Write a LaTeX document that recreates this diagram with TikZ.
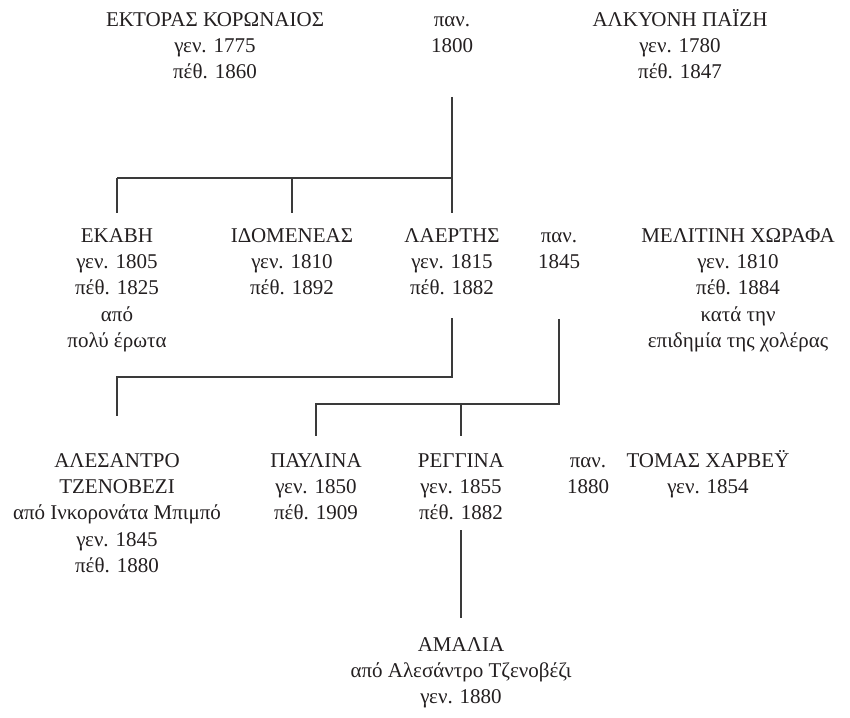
\documentclass[tikz,border=0pt]{standalone}
\usepackage{fontspec}
\setmainfont{Liberation Serif}

\begin{document}
\begin{tikzpicture}[x=1pt,y=-1pt]

% Colori
\definecolor{colText}{HTML}{231F20}
\definecolor{colLine}{HTML}{3A3A3A}

\tikzset{
  persona/.style={anchor=north, align=center, inner sep=0pt, text=colText,
    font=\fontsize{21}{26.4}\selectfont},
  legame/.style={draw=colLine, line width=1.2pt}
}

\useasboundingbox (0,0) rectangle (850,717);

% Prima generazione
\node[persona] (ektoras) at (215,7.5) {\strut ΕΚΤΟΡΑΣ ΚΟΡΩΝΑΙΟΣ\\γεν. 1775\\πέθ. 1860};
\node[persona] (m1800) at (452,7.5) {\strut παν.\\1800};
\node[persona] (alkyoni) at (680,7.5) {\strut ΑΛΚΥΟΝΗ ΠΑΪΖΗ\\γεν. 1780\\πέθ. 1847};

% Seconda generazione
\node[persona] (ekavi) at (117,223.5) {\strut ΕΚΑΒΗ\\γεν. 1805\\πέθ. 1825\\από\\πολύ έρωτα};
\node[persona] (idomeneas) at (292,223.5) {\strut ΙΔΟΜΕΝΕΑΣ\\γεν. 1810\\πέθ. 1892};
\node[persona] (laertis) at (452,223.5) {\strut ΛΑΕΡΤΗΣ\\γεν. 1815\\πέθ. 1882};
\node[persona] (m1845) at (559,223.5) {\strut παν.\\1845};
\node[persona] (melitini) at (738,223.5) {\strut ΜΕΛΙΤΙΝΗ ΧΩΡΑΦΑ\\γεν. 1810\\πέθ. 1884\\κατά την\\επιδημία της χολέρας};

% Terza generazione
\node[persona] (alesantro) at (117,448.5) {\strut ΑΛΕΣΑΝΤΡΟ\\ΤΖΕΝΟΒΕΖΙ\\από Ινκορονάτα Μπιμπό\\γεν. 1845\\πέθ. 1880};
\node[persona] (pavlina) at (316,448.5) {\strut ΠΑΥΛΙΝΑ\\γεν. 1850\\πέθ. 1909};
\node[persona] (reggina) at (461,448.5) {\strut ΡΕΓΓΙΝΑ\\γεν. 1855\\πέθ. 1882};
\node[persona] (m1880) at (588,448.5) {\strut παν.\\1880};
\node[persona] (tomas) at (708,448.5) {\strut ΤΟΜΑΣ ΧΑΡΒΕΫ\\γεν. 1854};

% Quarta generazione
\node[persona] (amalia) at (461,632.5) {\strut ΑΜΑΛΙΑ\\από Αλεσάντρο Τζενοβέζι\\γεν. 1880};

% Figli del 1800
\coordinate (fratelli) at (452,178);
\draw[legame, shorten <=44pt, shorten >=11pt] (m1800.south) -- (laertis.north);
\draw[legame] (ekavi.north |- fratelli) -- (fratelli);
\draw[legame, shorten >=11pt] (ekavi.north |- fratelli) -- (ekavi.north);
\draw[legame, shorten >=11pt] (idomeneas.north |- fratelli) -- (idomeneas.north);

% Laertis -> Alesantro
\coordinate (ramo1) at (0,377);
\draw[legame, shorten <=23pt, shorten >=33pt] (laertis.south) -- (laertis.south |- ramo1) -| (alesantro.north);

% Figli del 1845
\coordinate (ramo2) at (0,404);
\draw[legame, shorten <=50pt, shorten >=13pt] (m1845.south) -- (m1845.south |- ramo2) -| (pavlina.north);
\draw[legame, shorten >=13pt] (reggina.north |- ramo2) -- (reggina.north);

% Reggina -> Amalia
\draw[legame, shorten <=10pt, shorten >=15pt] (reggina.south) -- (amalia.north);

\end{tikzpicture}
\end{document}
